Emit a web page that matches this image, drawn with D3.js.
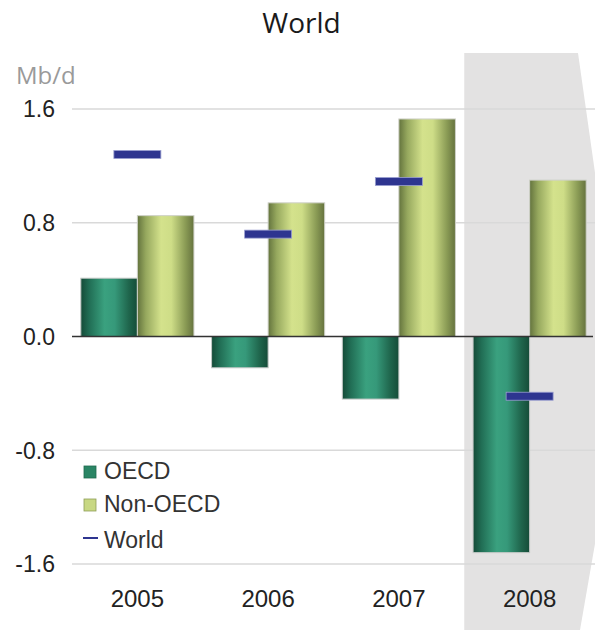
<!DOCTYPE html>
<html>
<head>
<meta charset="utf-8">
<script src="https://cdn.jsdelivr.net/npm/d3@7"></script>
<style>
  html, body { margin: 0; padding: 0; background: #fff; }
  svg { display: block; }
</style>
</head>
<body>
<div id="chart"></div>
<script>
// Year-on-year change in oil demand, million barrels per day
const years = ["2005", "2006", "2007", "2008"];
const oecd = [0.41, -0.22, -0.44, -1.52];
const nonOecd = [0.85, 0.94, 1.53, 1.10];
const world = [1.28, 0.72, 1.09, -0.42];
const yTicks = [-1.6, -0.8, 0.0, 0.8, 1.6];
const seriesNames = ["OECD", "Non-OECD", "World"];
const forecastYear = "2008";

const W = 595, H = 630;
const svg = d3.select("#chart").append("svg")
  .attr("width", W).attr("height", H);

const defs = svg.append("defs");
function cylinder(id, stops) {
  const g = defs.append("linearGradient").attr("id", id)
    .attr("x1", "0%").attr("x2", "100%").attr("y1", "0%").attr("y2", "0%");
  stops.forEach(([o, c]) => g.append("stop").attr("offset", o).attr("stop-color", c));
}
cylinder("gOecd", [["0%", "#144a37"], ["15%", "#216e55"], ["42%", "#3aa17f"], ["60%", "#36997a"], ["85%", "#1f654c"], ["100%", "#154c38"]]);
cylinder("gNon", [["0%", "#63733d"], ["15%", "#96a85e"], ["42%", "#d4e28c"], ["60%", "#cedd87"], ["85%", "#8a9b55"], ["100%", "#65723e"]]);

const left = 72, right = 595;
const x = d3.scaleBand().domain(years).range([left, right])
  .paddingInner(0.135).paddingOuter(0.0675);
const sub = d3.scaleBand().domain(["oecd", "non"]).range([0, x.bandwidth()]);
const y = d3.scaleLinear().domain([-1.6, 1.6]).range([564, 109]);

// Shaded forecast panel
const px0 = x(forecastYear) - x.step() * x.paddingInner() / 2;
svg.append("path")
  .attr("d", `M${px0},53 L578,53 L624,377 L580,630 L${px0},630 Z`)
  .attr("fill", "#e3e2e2");

// Gridlines
svg.append("g").selectAll("line").data(yTicks.filter(d => d !== 0)).join("line")
  .attr("x1", left).attr("x2", right)
  .attr("y1", d => y(d)).attr("y2", d => y(d))
  .attr("stroke", "#d9d9d9").attr("stroke-width", 1.5);

// Y tick labels
svg.append("g").selectAll("text").data(yTicks).join("text")
  .attr("x", 55).attr("y", d => y(d)).attr("dy", "0.36em")
  .attr("text-anchor", "end")
  .attr("font-family", "Liberation Sans, Arial, sans-serif")
  .attr("font-size", 23).attr("fill", "#222")
  .text(d => d.toFixed(1));

// Unit label
svg.append("text").attr("x", 16).attr("y", 84)
  .attr("font-family", "Open Sans, sans-serif").attr("font-size", 24)
  .attr("fill", "#9a9a9a").text("Mb/d");

// Title
svg.append("text").attr("x", W / 2 + 4).attr("y", 33).attr("text-anchor", "middle")
  .attr("font-family", "Open Sans, sans-serif").attr("font-size", 28)
  .attr("fill", "#1a1a1a").text("World");

// Bars
const rows = years.map((yr, i) => ({ yr, oecd: oecd[i], non: nonOecd[i], world: world[i] }));
const groups = svg.append("g").selectAll("g").data(rows).join("g")
  .attr("transform", d => `translate(${x(d.yr)},0)`);

groups.append("rect")
  .attr("x", sub("oecd")).attr("width", sub.bandwidth())
  .attr("y", d => y(Math.max(0, d.oecd)))
  .attr("height", d => Math.abs(y(d.oecd) - y(0)))
  .attr("fill", "url(#gOecd)").attr("stroke", "#c4c8c6").attr("stroke-width", 1);

groups.append("rect")
  .attr("x", sub("non")).attr("width", sub.bandwidth())
  .attr("y", d => y(Math.max(0, d.non)))
  .attr("height", d => Math.abs(y(d.non) - y(0)))
  .attr("fill", "url(#gNon)").attr("stroke", "#cfd1c8").attr("stroke-width", 1);

// Zero line
svg.append("line").attr("x1", left).attr("x2", right - 2)
  .attr("y1", y(0)).attr("y2", y(0))
  .attr("stroke", "#333").attr("stroke-width", 1.5);

// World totals as dash markers
const mW = 47, mH = 8;
groups.append("rect")
  .attr("x", x.bandwidth() / 2 - mW / 2).attr("width", mW)
  .attr("y", d => y(d.world) - mH / 2).attr("height", mH)
  .attr("fill", "#2e3590").attr("stroke", "#9a9fd0").attr("stroke-width", 0.8);

// X labels
svg.append("g").selectAll("text").data(years).join("text")
  .attr("x", d => x(d) + x.bandwidth() / 2).attr("y", 607)
  .attr("text-anchor", "middle")
  .attr("font-family", "Liberation Sans, Arial, sans-serif")
  .attr("font-size", 24).attr("fill", "#222")
  .text(d => d);

// Legend
const lg = svg.append("g").attr("font-family", "Liberation Sans, Arial, sans-serif")
  .attr("font-size", 23).attr("fill", "#333");
const legY = [479, 512, 548];
lg.append("rect").attr("x", 84).attr("y", 466).attr("width", 12).attr("height", 12)
  .attr("fill", "#2a8565").attr("stroke", "#1e6a4f").attr("stroke-width", 0.8);
lg.append("rect").attr("x", 84).attr("y", 499).attr("width", 12).attr("height", 12)
  .attr("fill", "#c8d883").attr("stroke", "#8e9f58").attr("stroke-width", 0.8);
lg.append("line").attr("x1", 83).attr("x2", 98).attr("y1", 538).attr("y2", 538)
  .attr("stroke", "#2e3590").attr("stroke-width", 2);
lg.selectAll("text").data(seriesNames).join("text")
  .attr("x", 104).attr("y", (d, i) => legY[i]).text(d => d);
</script>
</body>
</html>
